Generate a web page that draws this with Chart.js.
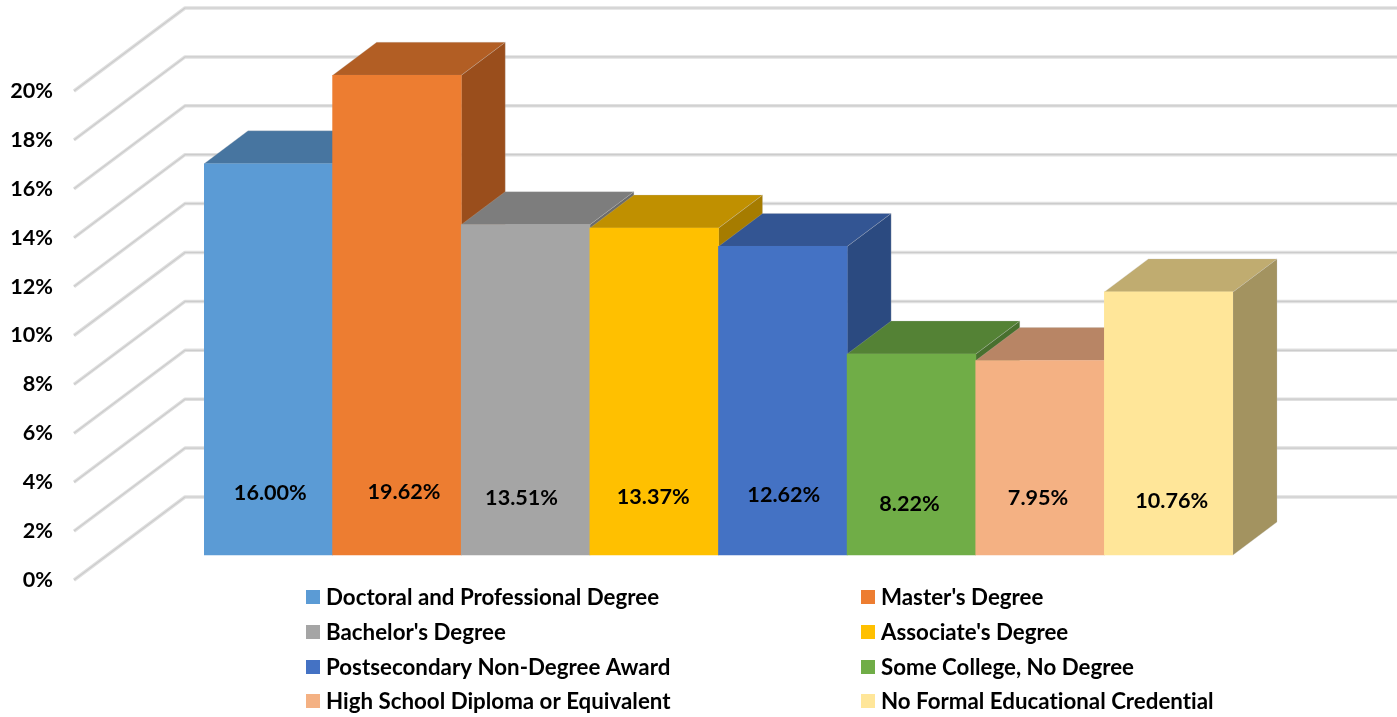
<!DOCTYPE html>
<html>
<head>
<meta charset="utf-8">
<title>Educational attainment</title>
<script src="https://cdn.jsdelivr.net/npm/chart.js@4"></script>
<style>
    html, body { margin: 0; padding: 0; background: #fff; }
    #wrap { width: 1397px; height: 717px; }
</style>
</head>
<body>
<div id="wrap"><canvas id="degreeChart"></canvas></div>
<script>
const degrees = [
    'Doctoral and Professional Degree', "Master's Degree",
    "Bachelor's Degree", "Associate's Degree",
    'Postsecondary Non-Degree Award', 'Some College, No Degree',
    'High School Diploma or Equivalent', 'No Formal Educational Credential'
];
const shares = [16.00, 19.62, 13.51, 13.37, 12.62, 8.22, 7.95, 10.76];
const tickValues = [0, 2, 4, 6, 8, 10, 12, 14, 16, 18, 20];

const frontColors = ['#5B9BD5', '#ED7D31', '#A5A5A5', '#FFC000', '#4472C4', '#70AD47', '#F4B183', '#FFE699'];
const topColors = ['#4775A0', '#B25E24', '#7D7D7D', '#C09000', '#335593', '#548235', '#B88565', '#C0AC70'];
const sideColors = ['#3D658A', '#9A4E1C', '#6C6C6C', '#A67C00', '#2B4A80', '#48702E', '#9F7357', '#A39360'];

// value label offsets from the bar foot centre, in px (Excel placed these unevenly)
const labelRise = [62, 63, 57, 58, 60, 51, 57, 54];
const labelShift = [2, 7, -4, -1, 1, -2, -2, 3];

const FONT_LEGEND = 'bold 22.3px Lato';
const FONT_VALUE = 'bold 21.6px Lato';
const PX_PER_UNIT = 24.45;
const BAR_DEPTH = { x: 44, y: 33 };
const WALL_DEPTH = { x: 111, y: 83 };
const WALL_FRONT_X = 74;

function poly(ctx, pts, fill) {
    ctx.beginPath();
    pts.forEach((p, i) => i ? ctx.lineTo(p[0], p[1]) : ctx.moveTo(p[0], p[1]));
    ctx.closePath();
    ctx.fillStyle = fill;
    ctx.fill();
    ctx.strokeStyle = 'rgba(190,190,190,0.25)';
    ctx.lineWidth = 1;
    ctx.stroke();
}

function gridStroke(ctx, pts) {
    ctx.lineJoin = 'round';
    [[3.5, '#e0e0e0'], [1.2, '#cccccc']].forEach(([w, col]) => {
        ctx.beginPath();
        pts.forEach((p, i) => i ? ctx.lineTo(p[0], p[1]) : ctx.moveTo(p[0], p[1]));
        ctx.lineWidth = w;
        ctx.strokeStyle = col;
        ctx.stroke();
    });
}

const box3d = {
    id: 'box3d',
    beforeDatasetsDraw(chart) {
        const ctx = chart.ctx;
        const wall = chart.scales.yWall;
        ctx.save();

        // gridlines running along the side wall and the back wall
        tickValues.forEach(v => {
            const y = wall.getPixelForValue(v);
            const backX = WALL_FRONT_X + WALL_DEPTH.x;
            gridStroke(ctx, [[WALL_FRONT_X, y], [backX, y - WALL_DEPTH.y], [chart.width, y - WALL_DEPTH.y]]);
        });

        // sides and tops, left to right so the later bars sit on top
        const bars = chart.getDatasetMeta(0).data;
        bars.forEach((bar, i) => {
            const x0 = bar.x - bar.width / 2;
            const x1 = bar.x + bar.width / 2;
            const yt = bar.y;
            const yb = bar.base;
            const dx = BAR_DEPTH.x;
            const dy = BAR_DEPTH.y;
            poly(ctx, [[x1, yt], [x1 + dx, yt - dy], [x1 + dx, yb - dy], [x1, yb]], sideColors[i]);
            poly(ctx, [[x0, yt], [x1, yt], [x1 + dx, yt - dy], [x0 + dx, yt - dy]], topColors[i]);
        });
        ctx.restore();
    },
    afterDatasetsDraw(chart) {
        const ctx = chart.ctx;
        ctx.save();
        ctx.font = FONT_VALUE;
        ctx.fillStyle = '#000';
        ctx.textAlign = 'center';
        ctx.textBaseline = 'middle';
        chart.getDatasetMeta(0).data.forEach((bar, i) => {
            ctx.fillText(shares[i].toFixed(2) + '%', bar.x + labelShift[i], bar.base - labelRise[i]);
        });
        ctx.restore();
    },
    afterDraw(chart) {
        // two column legend, Chart.js' own legend can't line up columns
        const ctx = chart.ctx;
        const colText = [326, 881];
        const colBox = [306, 861];
        const rowY = [597, 632, 667, 701];
        ctx.save();
        ctx.font = FONT_LEGEND;
        ctx.letterSpacing = '0.01px'; // stops the "ti" ligature in Lato
        ctx.textAlign = 'left';
        ctx.textBaseline = 'middle';
        degrees.forEach((name, i) => {
            const col = i % 2;
            const y = rowY[Math.floor(i / 2)];
            ctx.fillStyle = frontColors[i];
            ctx.fillRect(colBox[col], y - 7, 14, 14);
            ctx.fillStyle = '#000';
            ctx.fillText(name, colText[col], y + 1);
        });
        ctx.restore();
    }
};

// chart.js keeps half a tick label above the top tick, so the plot can't start higher than 13
const plotTop = 13;
const plotHeight = 580 - plotTop;

new Chart(document.getElementById('degreeChart'), {
    type: 'bar',
    data: {
        labels: degrees,
        datasets: [{
            data: shares,
            backgroundColor: frontColors,
            borderWidth: 0,
            barPercentage: 1,
            categoryPercentage: 1,
            yAxisID: 'y'
        }]
    },
    options: {
        responsive: true,
        maintainAspectRatio: false,
        animation: false,
        devicePixelRatio: 1,
        layout: { autoPadding: false, padding: { top: plotTop, bottom: 717 - 580, left: 0, right: 1397 - 1233 } },
        plugins: { legend: { display: false }, tooltip: { enabled: false } },
        scales: {
            x: { display: false },
            // bars stand on the floor, 25px above the front edge the labels sit on
            y: {
                display: false,
                min: -25 / PX_PER_UNIT,
                max: plotHeight / PX_PER_UNIT - 25 / PX_PER_UNIT
            },
            // empty axis, only there to push the plot away from the tick labels
            ySpacer: {
                position: 'left',
                weight: 0,
                min: 0,
                max: 1,
                grid: { display: false, drawTicks: false },
                border: { display: false },
                ticks: { display: false },
                afterFit: scale => { scale.width = 151; }
            },
            yWall: {
                position: 'left',
                weight: 1,
                min: 0,
                max: plotHeight / PX_PER_UNIT,
                grid: { display: false, drawTicks: false },
                border: { display: false },
                afterBuildTicks: scale => { scale.ticks = tickValues.map(v => ({ value: v })); },
                afterFit: scale => { scale.width = 53; },
                ticks: {
                    padding: 0,
                    color: '#000',
                    font: { family: 'Lato', size: 21.6, weight: 'bold' },
                    callback: v => v + '%'
                }
            }
        }
    },
    plugins: [box3d]
});
</script>
</body>
</html>
